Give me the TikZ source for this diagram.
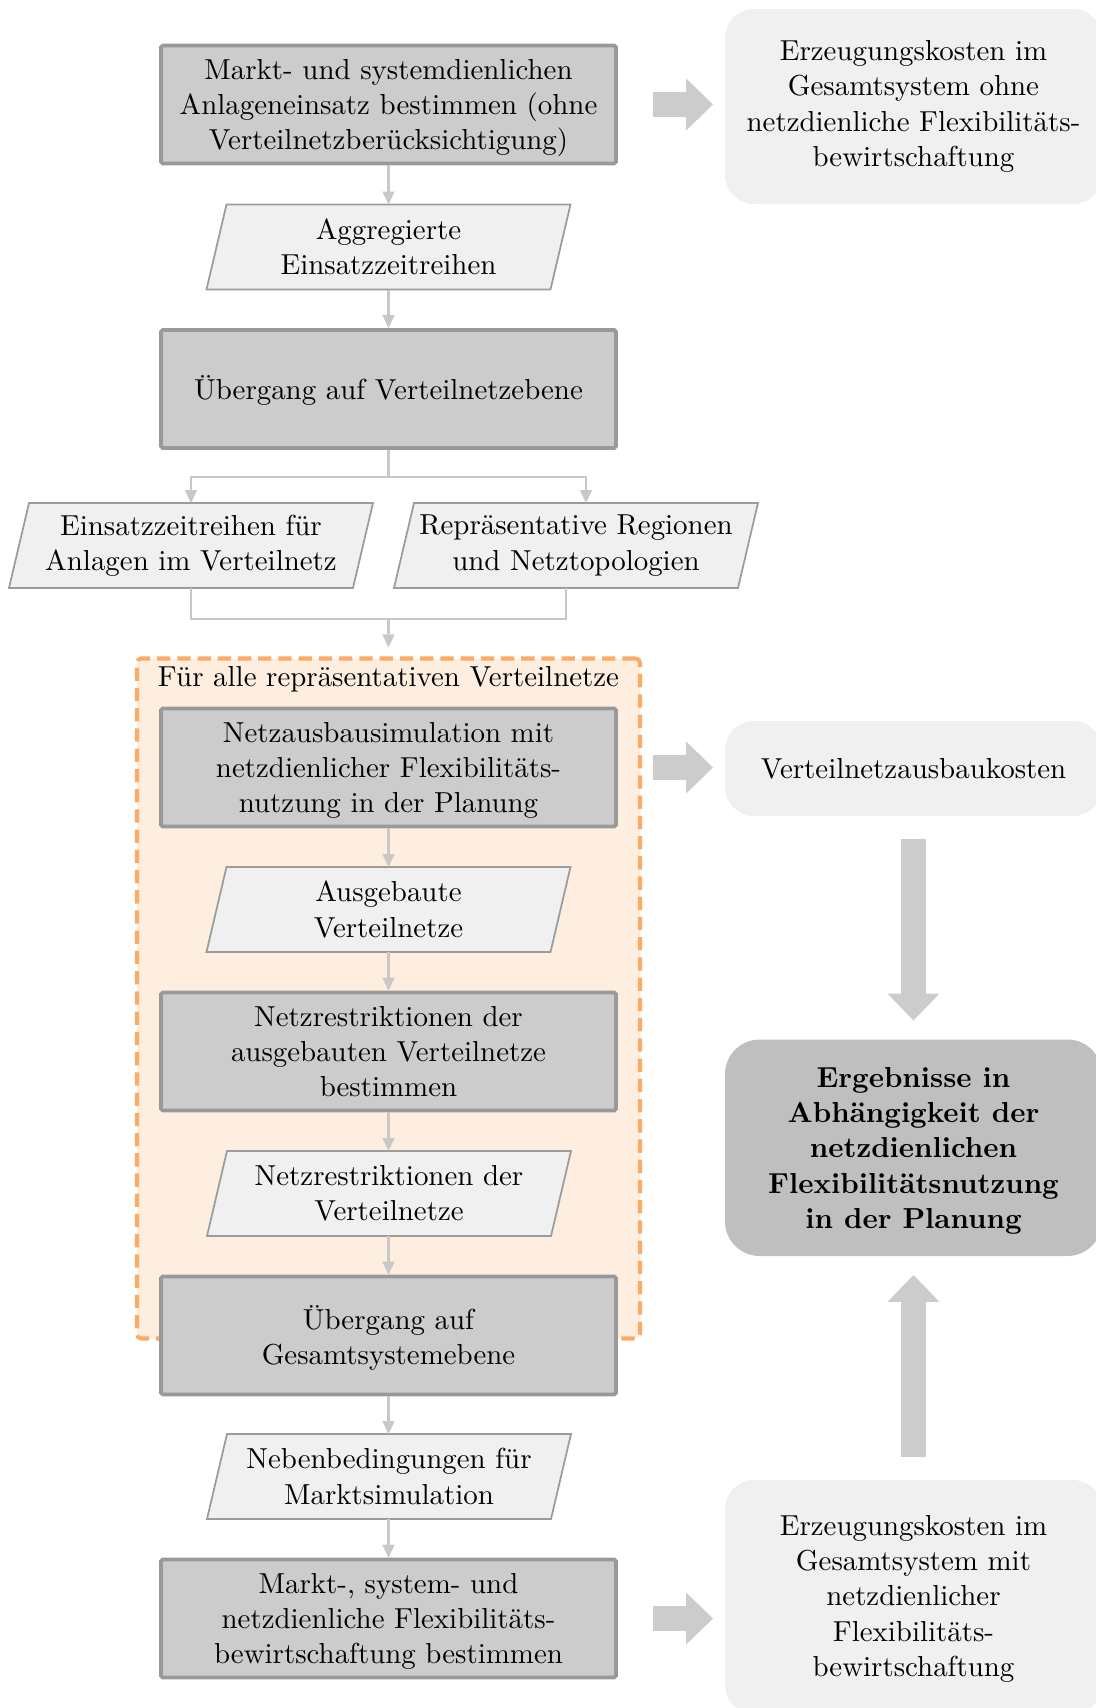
\documentclass[tikz,border=0pt]{standalone}
\usetikzlibrary{arrows.meta,calc}

\definecolor{boxfill}{RGB}{204,204,204}
\definecolor{boxline}{RGB}{153,153,153}
\definecolor{parafill}{RGB}{240,240,240}
\definecolor{paraline}{RGB}{155,155,155}
\definecolor{linkcol}{RGB}{200,200,200}
\definecolor{bigcol}{RGB}{204,204,204}
\definecolor{infofill}{RGB}{240,240,240}
\definecolor{resfill}{RGB}{191,191,191}
\definecolor{grpfill}{RGB}{253,238,224}
\definecolor{grpline}{RGB}{255,170,100}

\pgfdeclarelayer{back}
\pgfdeclarelayer{mid}
\pgfsetlayers{back,mid,main}

% one drawing unit in pt
\def\PX{0.346pt}

% parallelogram (data) frame around a datanode
\newcommand\drawpara[1]{%
  \begin{pgfonlayer}{mid}
    \draw[paraframe] ($(#1.north west)+(10,0)$) -- ($(#1.north east)+(10,0)$)
      -- ($(#1.south east)+(-10,0)$) -- ($(#1.south west)+(-10,0)$) -- cycle;
  \end{pgfonlayer}}

\begin{document}
\begin{tikzpicture}[
  x=0.346pt, y=-0.346pt,
  font=\fontsize{10}{12.2}\selectfont,
  procbox/.style={rectangle, draw=boxline, fill=boxfill, line width=1.3pt,
    rounded corners=0.6pt, minimum width=455*\PX, minimum height=118*\PX,
    align=center, inner sep=0pt},
  datanode/.style={rectangle, minimum width=344*\PX, minimum height=85*\PX,
    align=center, inner sep=0pt, outer sep=0pt},
  paraframe/.style={draw=paraline, fill=parafill, line width=0.6pt, line join=miter},
  infobox/.style={rectangle, fill=infofill, rounded corners=10pt,
    minimum width=377*\PX, align=center, inner sep=0pt, outer sep=0pt},
  resbox/.style={infobox, fill=resfill, rounded corners=12pt,
    font=\fontsize{10}{12.2}\selectfont\bfseries},
  grpbox/.style={rectangle, draw=grpline, fill=grpfill, line width=1.4pt,
    dash pattern=on 4.6pt off 2.4pt, rounded corners=1.5pt,
    minimum width=503*\PX, minimum height=680*\PX, inner sep=0pt},
  link/.style={draw=linkcol, line width=0.7pt},
  conn/.style={link, -{Triangle[width=4.3pt,length=4.5pt,line width=0pt]}},
  bigarrow/.style={draw=bigcol, line width=8.65pt,
    -{Triangle[width=18pt,length=9.3pt,line width=0pt]}}
]
\useasboundingbox (0,0) rectangle (1095,1708);

% group of steps run for every distribution grid
\begin{pgfonlayer}{back}
  \node[grpbox] (grp) at (388.5,998.5) {};
\end{pgfonlayer}
\node (grptitle) at (388.5,679) {Für alle repräsentativen Verteilnetze};

% process steps
\node[procbox, text depth=-0.9pt] (b1) at (388.5,104.5) {Markt- und systemdienlichen\\Anlageneinsatz bestimmen (ohne\\Verteilnetzberücksichtigung)};
\node[procbox, text depth=1.2pt] (b2) at (388.5,389) {Übergang auf Verteilnetzebene};
\node[procbox, text depth=-1.1pt] (b3) at (388.5,767.5) {Netzausbausimulation mit\\netzdienlicher Flexibilitäts-\\nutzung in der Planung};
\node[procbox, text depth=-1.4pt] (b4) at (388.5,1051.5) {Netzrestriktionen der\\ausgebauten Verteilnetze\\bestimmen};
\node[procbox, text depth=0.4pt] (b5) at (388.5,1335.5) {Übergang auf\\Gesamtsystemebene};
\node[procbox, text depth=-1.1pt] (b6) at (388.5,1618.5) {Markt-, system- und\\netzdienliche Flexibilitäts-\\bewirtschaftung bestimmen};

% data objects
\node[datanode] (p1) at (388.5,247) {Aggregierte\\Einsatzzeitreihen};
\node[datanode] (p2) at (191,545.5) {Einsatzzeitreihen für\\Anlagen im Verteilnetz};
\node[datanode] (p3) at (576,545.5) {Repräsentative Regionen\\und Netztopologien};
\node[datanode] (p4) at (388.5,909.5) {Ausgebaute\\Verteilnetze};
\node[datanode] (p5) at (389,1193.5) {Netzrestriktionen der\\Verteilnetze};
\node[datanode] (p6) at (389,1476.5) {Nebenbedingungen für\\Marktsimulation};
\foreach \p in {p1,p2,p3,p4,p5,p6} {\drawpara{\p}}

% results
\node[infobox, minimum height=195*\PX] (r1) at (913.5,106.5) {Erzeugungskosten im\\Gesamtsystem ohne\\netzdienliche Flexibilitäts-\\bewirtschaftung};
\node[infobox, minimum height=95*\PX] (r2) at (913.5,768.5) {Verteilnetzausbaukosten};
\node[resbox, minimum height=216.5*\PX, text depth=-0.3pt] (re) at (913.5,1147.75) {Ergebnisse in\\Abhängigkeit der\\netzdienlichen\\Flexibilitätsnutzung\\in der Planung};
\node[infobox, minimum height=234*\PX, text depth=0.8pt] (r3) at (913.5,1597) {Erzeugungskosten im\\Gesamtsystem mit\\netzdienlicher\\Flexibilitäts-\\bewirtschaftung};

% flow connectors
\draw[conn] (b1.south) -- (b1.south |- p1.north);
\draw[conn] (p1.south -| b2.north) -- (b2.north);
\draw[link] (b2.south) -- ++(0,27) coordinate (split);
\draw[conn] (split) -| (p2.north);
\draw[conn] (split) -| ($(p3.north)+(10,0)$);
\coordinate (merge) at ($(b2.south)+(0,169.5)$);
\draw[link] (p2.south) |- (merge);
\draw[link] ($(p3.south)+(-10,0)$) |- (merge);
\draw[conn] (merge) -- ($(grp.north)+(0,-9)$);
\draw[conn] (b3.south) -- (b3.south |- p4.north);
\draw[conn] (p4.south -| b4.north) -- (b4.north);
\draw[conn] (b4.south) -- (b4.south |- p5.north);
\draw[conn] (p5.south -| b5.north) -- (b5.north);
\draw[conn] (b5.south) -- (b5.south |- p6.north);
\draw[conn] (p6.south -| b6.north) -- (b6.north);

% result arrows
\draw[bigarrow] ($(b1.east)+(35,0)$) -- ($(b1.east -| r1.west)+(-12,0)$);
\draw[bigarrow] ($(b3.east)+(35,0)$) -- ($(b3.east -| r2.west)+(-12,0)$);
\draw[bigarrow] ($(b6.east)+(35,0)$) -- ($(b6.east -| r3.west)+(-12,0)$);
\draw[bigarrow] ($(r2.south)+(0,23)$) -- ($(re.north)+(0,-19)$);
\draw[bigarrow] ($(r3.north)+(0,-23)$) -- ($(re.south)+(0,19)$);
\end{tikzpicture}
\end{document}
